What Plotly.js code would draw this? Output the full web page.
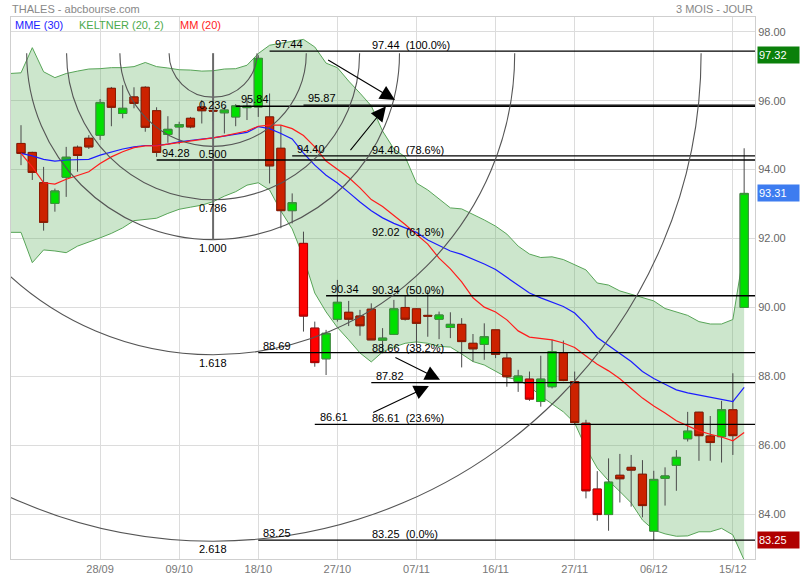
<!DOCTYPE html>
<html><head><meta charset="utf-8">
<script src="https://cdn.plot.ly/plotly-3.0.1.min.js"></script>
<style>html,body{margin:0;padding:0;background:#fff}#chart{width:800px;height:580px}</style>
</head><body><div id="chart"></div>
<script>
// ---- trading days (band starts one session before the first candle) ----
const dates = ['18/09','19/09','20/09','21/09','22/09','25/09','26/09','27/09','28/09','29/09',
'02/10','03/10','04/10','05/10','06/10','09/10','10/10','11/10','12/10','13/10','16/10','17/10','18/10','19/10','20/10','23/10','24/10','25/10','26/10','27/10','30/10','31/10',
'01/11','02/11','03/11','06/11','07/11','08/11','09/11','10/11','13/11','14/11','15/11','16/11','17/11','20/11','21/11','22/11','23/11','24/11','27/11','28/11','29/11','30/11',
'01/12','04/12','05/12','06/12','07/12','08/12','11/12','12/12','13/12','14/12','15/12','18/12'];
const tickDates = ['28/09','09/10','18/10','27/10','07/11','16/11','27/11','06/12','15/12'];

// ---- candles: 19/09 .. 18/12 ----
const open = [94.76,94.50,93.62,93.02,93.78,94.65,94.91,95.00,96.36,95.63,96.11,96.39,95.71,95.02,95.24,95.49,95.82,95.72,95.65,95.53,95.80,95.82,95.53,94.62,92.81,91.86,89.40,88.51,89.66,89.86,89.75,89.95,89.05,89.22,90.00,89.96,89.77,89.66,89.42,89.51,88.96,88.93,89.35,88.53,87.85,87.92,87.27,87.70,88.69,87.85,86.64,84.73,83.99,85.13,85.36,85.16,83.51,85.04,85.42,86.19,86.96,86.27,86.25,87.03,90.00];
const high = [95.29,94.52,94.08,93.45,94.66,94.70,95.00,96.05,96.40,96.45,96.39,96.42,95.81,95.55,95.39,95.53,96.02,96.00,95.82,95.90,96.07,97.32,96.21,95.29,93.31,92.20,89.59,89.35,90.80,90.19,89.93,90.12,89.40,90.22,90.33,89.98,90.51,89.88,89.86,89.69,89.23,89.54,89.35,88.67,88.19,88.14,88.60,89.06,89.04,88.14,86.74,85.25,85.62,85.75,85.72,85.57,85.26,85.36,85.86,86.97,86.97,86.85,87.29,88.09,94.62];
const low = [94.13,93.70,92.23,92.78,93.21,93.94,94.60,94.86,95.26,95.49,95.78,95.10,94.37,94.78,94.74,95.20,95.34,95.40,95.05,95.26,95.44,95.53,93.60,92.30,92.44,89.30,88.28,88.04,89.59,89.46,89.18,89.06,88.67,89.20,89.62,88.91,89.15,89.08,89.11,88.26,88.43,88.48,88.53,87.70,87.55,87.29,87.12,87.65,87.86,86.60,84.46,83.81,83.52,84.34,84.22,83.91,83.25,84.25,84.68,86.11,85.55,85.55,85.50,85.72,90.00];
const close = [94.47,93.92,92.47,93.38,94.36,94.41,94.66,95.95,95.81,95.78,95.92,95.23,94.50,95.17,95.31,95.24,95.71,95.70,95.73,95.85,95.84,97.23,94.11,92.81,93.04,89.75,88.40,89.25,90.15,89.66,89.47,89.06,89.11,89.96,89.66,89.54,89.75,89.78,89.51,89.01,88.80,89.15,88.64,87.99,88.01,87.34,87.92,88.72,87.88,86.66,84.68,83.99,84.93,85.03,85.28,84.25,85.01,85.11,85.65,86.41,86.28,86.08,87.03,86.28,93.31];

// ---- indicators ----
const mme30 = [94.47,94.40,94.30,94.25,94.28,94.28,94.30,94.42,94.52,94.60,94.66,94.70,94.70,94.74,94.81,94.86,94.89,94.92,94.98,95.02,95.08,95.25,95.19,95.05,94.89,94.48,94.13,93.84,93.61,93.34,93.06,92.81,92.60,92.44,92.31,92.18,91.96,91.80,91.64,91.54,91.41,91.26,91.10,90.88,90.65,90.42,90.28,90.16,90.03,89.84,89.51,89.13,88.90,88.68,88.43,88.14,87.94,87.77,87.61,87.52,87.46,87.39,87.35,87.27,87.68];
const mm20 = [94.47,94.08,93.62,93.58,93.72,93.84,93.94,94.18,94.37,94.52,94.64,94.69,94.69,94.74,94.78,94.83,94.88,94.92,94.98,95.05,95.12,95.26,95.29,95.29,95.19,94.99,94.66,94.25,94.00,93.77,93.47,93.13,92.93,92.68,92.41,92.12,91.84,91.43,91.12,90.74,90.28,90.01,89.87,89.64,89.32,89.14,89.11,89.06,88.97,88.84,88.59,88.35,88.16,87.93,87.65,87.37,87.14,86.94,86.71,86.56,86.42,86.32,86.24,86.13,86.37];
const keltnerUpper = [96.79,96.81,97.54,96.84,96.67,96.79,96.86,96.92,96.93,96.96,96.96,96.99,97.11,96.99,96.95,96.90,96.89,96.86,96.87,96.92,96.93,97.03,97.37,97.61,97.67,97.73,97.78,97.56,97.09,96.96,96.57,96.22,95.85,95.12,94.60,94.37,93.61,93.41,93.15,92.89,92.86,92.71,92.54,92.36,92.13,91.78,91.55,91.45,91.47,91.39,91.23,91.09,90.71,90.65,90.48,90.38,90.27,90.19,89.97,89.88,89.77,89.59,89.52,89.52,89.65,91.67];
const keltnerLower = [92.18,92.18,91.30,91.67,91.64,91.59,91.78,91.89,92.02,92.15,92.31,92.52,92.56,92.59,92.73,92.85,92.91,92.97,93.07,93.23,93.36,93.55,93.62,93.41,92.80,92.28,91.46,90.42,89.87,89.42,89.06,88.68,88.42,88.71,88.85,88.96,89.00,88.96,88.87,88.85,88.65,88.43,88.33,88.16,87.97,87.90,87.71,87.43,87.20,86.97,86.65,85.92,85.34,84.97,84.66,84.33,83.83,83.54,83.43,83.36,83.37,83.49,83.49,83.59,83.40,82.67];

// ---- drawing tools (Fibonacci) ----
const fibLevels = [97.44, 94.40, 92.02, 90.34, 88.66, 86.61, 83.25];
const fibPct = ['100.0%','78.6%','61.8%','50.0%','38.2%','23.6%','0.0%'];
const fibLabelDate = '01/11';
const markerValues = [97.44, 95.84, 95.87, 94.40, 94.28, 90.34, 88.69, 87.82, 86.61, 83.25];
const markerStart = ['19/10','16/10','24/10','23/10','05/10','26/10','18/10','01/11','25/10','18/10'];
const arcRatios = [0.236, 0.5, 0.786, 1.0, 1.618, 2.618];
const arcLabels = ['0.236','0.500','0.786','1.000','1.618','2.618'];
const arcCenterDate = '12/10', arcCenterPrice = 97.38, arcUnitBottom = 91.97;

// ---- geometry ----
const W = 800, H = 580, M = {l:11, r:45, t:17, b:21};
const plotW = W - M.l - M.r, plotH = H - M.t - M.b;
const xRange = [0.115, 65.96], yRange = [82.70, 98.43];
const idx = d => dates.indexOf(d);
const xAll = dates.map((d,i)=>i);
const xC = xAll.slice(1);

const BRIGHT = close.map((c,i)=> c < open[i] && c < keltnerLower[i+1]);
const pick = (arr, f) => arr.filter((_,i)=>f(i));

const traces = [
  {type:'scatter', x:xAll, y:keltnerLower, mode:'lines', line:{color:'#58a558', width:1}, hoverinfo:'skip', showlegend:false},
  {type:'scatter', x:xAll, y:keltnerUpper, mode:'lines', line:{color:'#58a558', width:1}, fill:'tonexty', fillcolor:'rgba(100,180,100,0.33)', hoverinfo:'skip', showlegend:false},
  // wicks
  {type:'candlestick', x:xC, open:open, high:high, low:low, close:close, xaxis:'x2', yaxis:'y2', whiskerwidth:0,
   increasing:{line:{color:'#4a4a4a', width:1}, fillcolor:'rgba(0,0,0,0)'},
   decreasing:{line:{color:'#4a4a4a', width:1}, fillcolor:'rgba(0,0,0,0)'}, hoverinfo:'skip', showlegend:false},
  // bodies
  (function(){ const f=i=>!BRIGHT[i]; const o=pick(open,f), c=pick(close,f);
    return {type:'candlestick', x:pick(xC,f), open:o, close:c, high:o.map((v,k)=>Math.max(v,c[k])), low:o.map((v,k)=>Math.min(v,c[k])),
      xaxis:'x2', yaxis:'y2', whiskerwidth:0,
      increasing:{line:{color:'#3a963a', width:1}, fillcolor:'#00e000'},
      decreasing:{line:{color:'#8e1a00', width:1}, fillcolor:'#cc2200'}, hoverinfo:'skip', showlegend:false}; })(),
  (function(){ const f=i=>BRIGHT[i]; const o=pick(open,f), c=pick(close,f);
    return {type:'candlestick', x:pick(xC,f), open:o, close:c, high:o.map((v,k)=>Math.max(v,c[k])), low:o.map((v,k)=>Math.min(v,c[k])),
      xaxis:'x2', yaxis:'y2', whiskerwidth:0,
      increasing:{line:{color:'#3a963a', width:1}, fillcolor:'#00e000'},
      decreasing:{line:{color:'#b00000', width:1}, fillcolor:'#ff0000'}, hoverinfo:'skip', showlegend:false}; })(),
  {type:'scatter', x:xC, y:mme30, mode:'lines', line:{color:'#1c1cff', width:1.2}, xaxis:'x2', yaxis:'y2', hoverinfo:'skip', showlegend:false},
  {type:'scatter', x:xC, y:mm20, mode:'lines', line:{color:'#ff1c1c', width:1.2}, xaxis:'x2', yaxis:'y2', hoverinfo:'skip', showlegend:false}
];

// ---- shapes ----
const shapes = [];
shapes.push({type:'rect', xref:'paper', yref:'paper', x0:0.001, x1:0.337, y0:0.974, y1:1.0, fillcolor:'#ffffff', line:{width:0}, layer:'between'});
markerValues.forEach((v,k)=>{
  shapes.push({type:'line', xref:'x', yref:'y', x0:idx(markerStart[k]), x1:xRange[1]+1, y0:v, y1:v, line:{color:'#000', width:1.3}});
});
const pxX = plotW/(xRange[1]-xRange[0]), pxY = plotH/(yRange[1]-yRange[0]);
const ry1 = arcCenterPrice - arcUnitBottom, rx1 = ry1*pxY/pxX, K = 0.5523, acx = idx(arcCenterDate), acy = arcCenterPrice;
arcRatios.forEach(r=>{
  const rx = rx1*r, ry = ry1*r;
  const p = `M${acx-rx},${acy} C${acx-rx},${acy-K*ry} ${acx-K*rx},${acy-ry} ${acx},${acy-ry} C${acx+K*rx},${acy-ry} ${acx+rx},${acy-K*ry} ${acx+rx},${acy}`;
  shapes.push({type:'path', xref:'x', yref:'y', path:p, line:{color:'#555', width:1.1}});
});
shapes.push({type:'line', xref:'x', yref:'y', x0:acx, x1:acx, y0:acy, y1:acy-ry1, line:{color:'#6a6a6a', width:2}});

// ---- annotations ----
const F = 'Arial, "Liberation Sans", sans-serif';
const ann = [];
ann.push({xref:'paper', yref:'paper', x:-0.0015, y:1, xanchor:'left', yanchor:'middle', yshift:8.5, showarrow:false, text:'THALES - abcbourse.com', font:{family:F, size:11, color:'#888'}});
ann.push({xref:'paper', yref:'paper', x:1, y:1, xanchor:'right', yanchor:'middle', yshift:8.5, showarrow:false, text:'3 MOIS - JOUR', font:{family:F, size:11, color:'#888'}});
[['MME (30)','#1c1cff',14],['KELTNER (20, 2)','#4caa4c',78],['MM (20)','#ff1c1c',179]].forEach(a=>{
  ann.push({xref:'paper', yref:'paper', x:(a[2]-M.l-1)/plotW, y:1, xanchor:'left', yanchor:'middle', yshift:-8, showarrow:false, text:a[0], font:{family:F, size:11, color:a[1]}});
});
markerValues.forEach((v,k)=>{
  ann.push({xref:'x', yref:'y', x:idx(markerStart[k]), y:v, xanchor:'left', yanchor:'bottom', xshift:3, yshift:-1, showarrow:false, text:v.toFixed(2), font:{family:F, size:11, color:'#000'}});
});
fibLevels.forEach((v,k)=>{
  ann.push({xref:'x', yref:'y', x:idx(fibLabelDate), y:v, xanchor:'left', yanchor:'bottom', xshift:-1, yshift:-2, showarrow:false, text:v.toFixed(2)+'\u00a0\u00a0('+fibPct[k]+')', font:{family:F, size:11, color:'#000'}});
});
arcRatios.forEach((r,k)=>{
  ann.push({xref:'x', yref:'y', x:acx, y:acy-ry1*r, xanchor:'center', yanchor:'top', yshift:0, showarrow:false, text:arcLabels[k], font:{family:F, size:11, color:'#000'}});
});
// arrows of the drawing
[[28.05,97.21,34.1,96.02],[30.05,94.52,33.3,95.84],[34.0,88.57,38.08,87.90],[32.04,86.93,37.1,87.72]].forEach(a=>{
  ann.push({xref:'x', yref:'y', axref:'x', ayref:'y', ax:a[0], ay:a[1], x:a[2], y:a[3], text:'', showarrow:true, arrowhead:2, arrowsize:2.7, arrowwidth:1.1, arrowcolor:'#000', standoff:0, startstandoff:0});
});
// price tags
const maxHigh = Math.max(...high), minLow = Math.min(...low), last = close[close.length-1];
[[maxHigh,'#0a800a'],[last,'#3d7cf0'],[minLow,'#b00000']].forEach(t=>{
  ann.push({xref:'paper', yref:'y', x:1, y:t[0], xanchor:'left', yanchor:'middle', xshift:2, showarrow:false, text:t[0].toFixed(2), bgcolor:t[1], width:39, height:14, align:'left', borderpad:1, font:{family:F, size:11, color:'#fff'}});
});

const axBase = {showgrid:true, gridcolor:'#dcdcdc', gridwidth:1, zeroline:false, showline:true, mirror:true, linecolor:'#cfcfcf', linewidth:1, ticks:'', fixedrange:true};
const layout = {
  width:W, height:H, margin:M, paper_bgcolor:'#fff', plot_bgcolor:'#fff', showlegend:false,
  font:{family:F, size:11, color:'#666'},
  boxgap:0.15, boxgroupgap:0.15,
  xaxis:Object.assign({}, axBase, {range:xRange, tickmode:'array', tickvals:tickDates.map(idx), ticktext:tickDates, tickfont:{family:F, size:11, color:'#777'}, rangeslider:{visible:false}}),
  yaxis:Object.assign({}, axBase, {range:yRange, side:'right', tickmode:'array', tickvals:[84,86,88,90,92,94,96,98], ticktext:[84,86,88,90,92,94,96,98].map(v=>v.toFixed(2)), tickfont:{family:F, size:11, color:'#666'}}),
  xaxis2:{overlaying:'x', anchor:'y2', range:xRange, visible:false, fixedrange:true, rangeslider:{visible:false}},
  yaxis2:{overlaying:'y', anchor:'x2', side:'right', range:yRange, visible:false, fixedrange:true},
  shapes:shapes, annotations:ann
};
Plotly.newPlot('chart', traces, layout, {staticPlot:true, displayModeBar:false});
</script></body></html>
